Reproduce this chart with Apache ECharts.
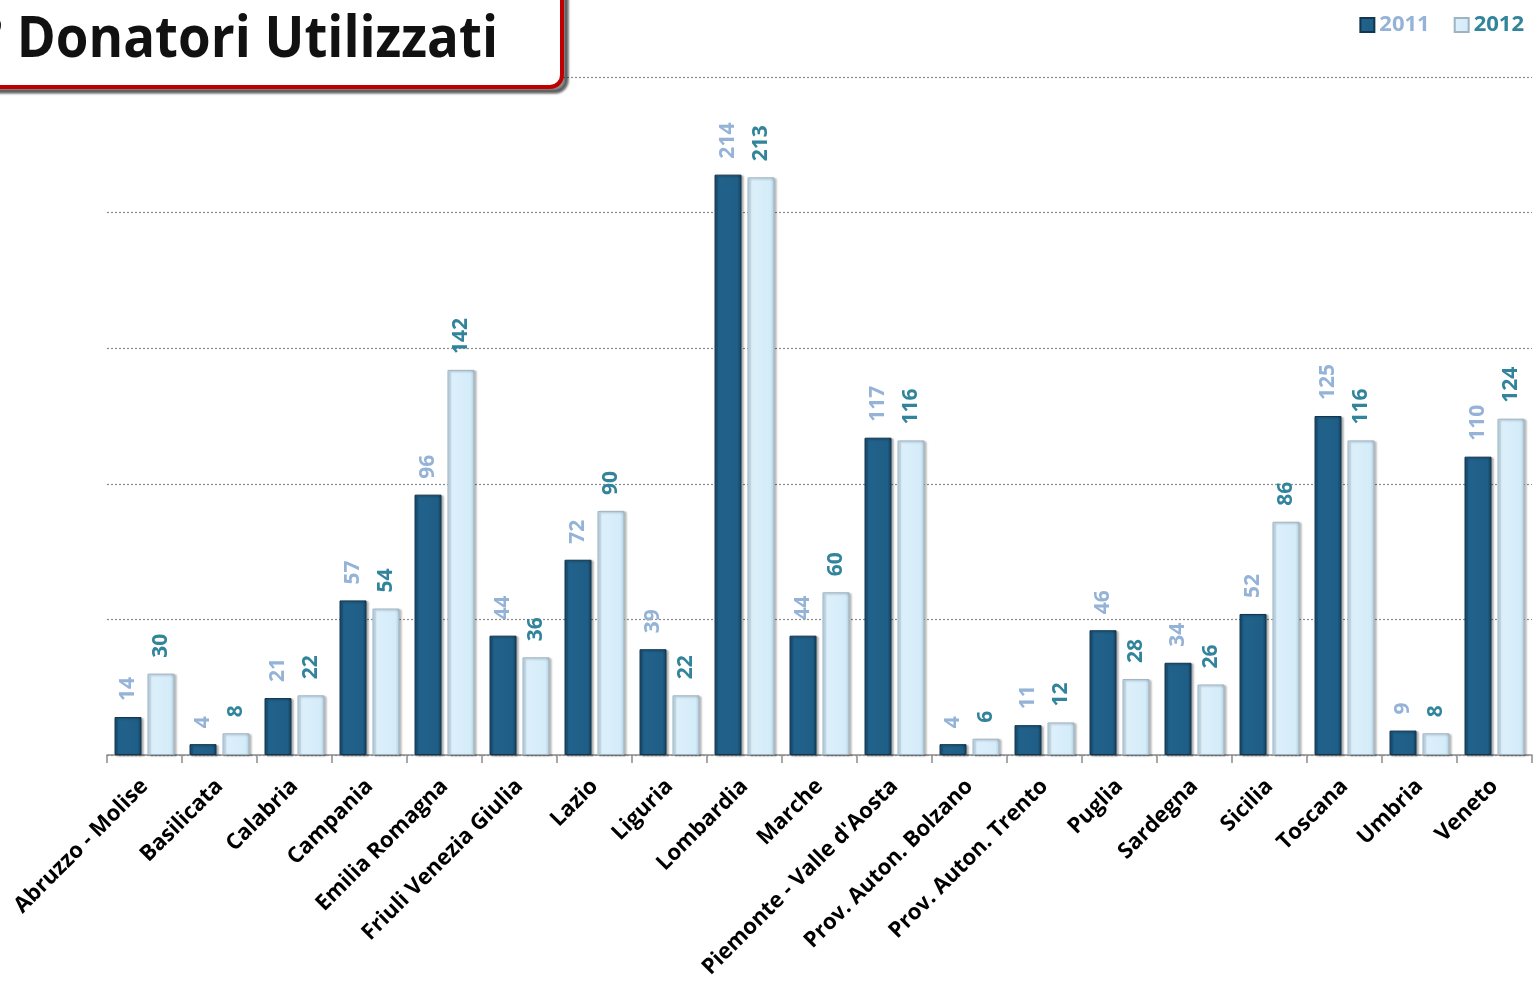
<!DOCTYPE html>
<html>
<head>
<meta charset="utf-8">
<script src="https://cdn.jsdelivr.net/npm/echarts@6/dist/echarts.min.js"></script>
<style>
  html, body { margin: 0; padding: 0; background: #fff; }
  #chart { width: 1537px; height: 982px; }
</style>
</head>
<body>
<div id="chart"></div>
<script>
const regioni = [
  "Abruzzo - Molise", "Basilicata", "Calabria", "Campania", "Emilia Romagna",
  "Friuli Venezia Giulia", "Lazio", "Liguria", "Lombardia", "Marche",
  "Piemonte - Valle d'Aosta", "Prov. Auton. Bolzano", "Prov. Auton. Trento",
  "Puglia", "Sardegna", "Sicilia", "Toscana", "Umbria", "Veneto"
];
const donatori2011 = [14, 4, 21, 57, 96, 44, 72, 39, 214, 44, 117, 4, 11, 46, 34, 52, 125, 9, 110];
const donatori2012 = [30, 8, 22, 54, 142, 36, 90, 22, 213, 60, 116, 6, 12, 28, 26, 86, 116, 8, 124];

const font = "'Open Sans', 'Liberation Sans', sans-serif";

var myChart = echarts.init(document.getElementById("chart"));

var option = {
  animation: false,
  textStyle: { fontFamily: font },
  graphic: [
    {
      type: "rect",
      shape: { x: -20, y: -20, width: 582, height: 107, r: 12 },
      style: {
        fill: "#fff",
        stroke: "#c00000",
        lineWidth: 4,
        shadowColor: "rgba(0,0,0,0.45)",
        shadowOffsetX: 5,
        shadowOffsetY: 5,
        shadowBlur: 2
      },
      z: 10
    },
    {
      type: "text",
      x: 498,
      y: 40,
      scaleX: 0.91,
      originX: 0,
      style: {
        text: "N° Donatori Utilizzati",
        fill: "#111",
        font: "bold 58px " + font,
        textAlign: "right",
        textVerticalAlign: "middle"
      },
      z: 11
    }
  ],
  legend: {
    right: 8,
    top: 9,
    icon: "rect",
    itemWidth: 14,
    itemHeight: 14,
    itemGap: 24,
    data: [
      { name: "2011", textStyle: { color: "#95b3d7" } },
      { name: "2012", textStyle: { color: "#31849b" } }
    ],
    textStyle: { fontSize: 22, fontWeight: "bold", fontFamily: font }
  },
  grid: {
    left: 107,
    right: 5,
    top: 77,
    bottom: 227
  },
  xAxis: {
    type: "category",
    data: regioni,
    axisLine: { lineStyle: { color: "#8c8c8c", width: 1.5 } },
    axisTick: { show: true, length: 8, lineStyle: { color: "#8c8c8c", width: 1.5 } },
    axisLabel: {
      rotate: 45,
      interval: 0,
      color: "#000",
      fontWeight: "bold",
      fontSize: 22,
      fontFamily: font,
      margin: 28
    }
  },
  yAxis: {
    type: "value",
    min: 0,
    max: 250,
    interval: 50,
    axisLabel: { show: false },
    axisLine: { show: false },
    axisTick: { show: false },
    splitLine: { lineStyle: { color: "#8c8c8c", type: [2, 2], width: 1.2 } }
  },
  series: [
    {
      name: "2011",
      type: "bar",
      data: donatori2011,
      barGap: "22%",
      barCategoryGap: "20%",
      itemStyle: {
        color: new echarts.graphic.LinearGradient(0, 0, 1, 0, [
          { offset: 0, color: "#174a6c" },
          { offset: 0.15, color: "#21628c" },
          { offset: 0.85, color: "#1f5e86" },
          { offset: 1, color: "#153f5c" }
        ]),
        borderColor: "#123650",
        borderWidth: 1,
        shadowColor: "rgba(0,0,0,0.3)",
        shadowOffsetX: 2,
        shadowOffsetY: 1,
        shadowBlur: 2
      },
      label: {
        show: true,
        position: "top",
        rotate: 90,
        align: "left",
        verticalAlign: "middle",
        distance: 16,
        color: "#95b3d7",
        fontWeight: "bold",
        fontSize: 21,
        fontFamily: font
      }
    },
    {
      name: "2012",
      type: "bar",
      data: donatori2012,
      itemStyle: {
        color: new echarts.graphic.LinearGradient(0, 0, 1, 0, [
          { offset: 0, color: "#b9d6e8" },
          { offset: 0.15, color: "#dcf0fb" },
          { offset: 0.85, color: "#d4ecf9" },
          { offset: 1, color: "#aecbdc" }
        ]),
        borderColor: "#9fb4c2",
        borderWidth: 1,
        shadowColor: "rgba(0,0,0,0.25)",
        shadowOffsetX: 2,
        shadowOffsetY: 1,
        shadowBlur: 2
      },
      label: {
        show: true,
        position: "top",
        rotate: 90,
        align: "left",
        verticalAlign: "middle",
        distance: 16,
        color: "#31849b",
        fontWeight: "bold",
        fontSize: 21,
        fontFamily: font
      }
    }
  ]
};

myChart.setOption(option);
</script>
</body>
</html>
